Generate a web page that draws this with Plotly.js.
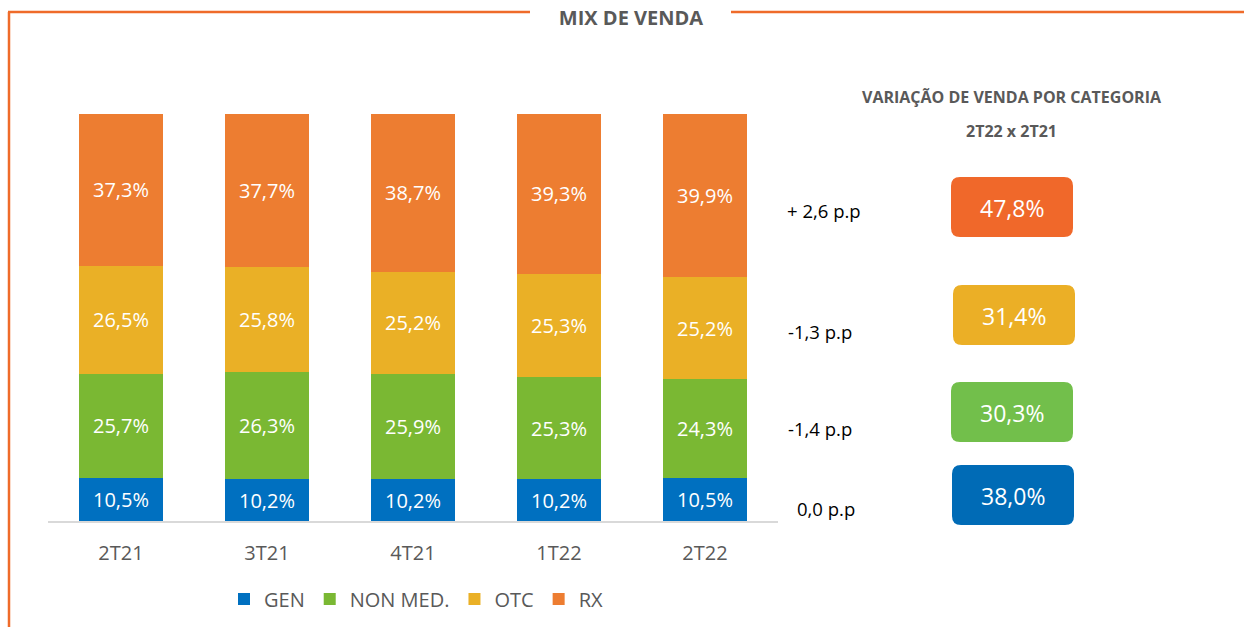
<!DOCTYPE html>
<html>
<head>
<meta charset="utf-8">
<script src="https://cdn.plot.ly/plotly-3.0.1.min.js"></script>
<style>html,body{margin:0;padding:0;background:#fff;}#chart{width:1244px;height:627px;}</style>
</head>
<body>
<div id="chart"></div>
<script>
// ---- data ----
const quarters = ['2T21', '3T21', '4T21', '1T22', '2T22'];
const seriesNames = ['GEN', 'NON MED.', 'OTC', 'RX'];
const gen = [10.5, 10.2, 10.2, 10.2, 10.5];
const nonMed = [25.7, 26.3, 25.9, 25.3, 24.3];
const otc = [26.5, 25.8, 25.2, 25.3, 25.2];
const rx = [37.3, 37.7, 38.7, 39.3, 39.9];
// variação por categoria (2T22 x 2T21), ordem RX, OTC, NON MED., GEN
const ppChange = ['+ 2,6 p.p', '-1,3 p.p', '-1,4 p.p', '0,0 p.p'];
const salesGrowth = [47.8, 31.4, 30.3, 38.0];

// ---- styling ----
const W = 1244, H = 627;
const M = {l: 48, r: 466, t: 114, b: 106};
const plotW = W - M.l - M.r, plotH = H - M.t - M.b;
const px = x => (x - M.l) / plotW;          // pixel -> paper x
const py = y => (H - M.b - y) / plotH;      // pixel -> paper y
const FONT = 'Open Sans, Noto Sans, sans-serif';
const GRAY = '#595959';
const FRAME = '#EF6B2A';
const barColors = ['#0070C0', '#7AB833', '#EAB026', '#ED7D31'];
const boxColors = ['#F0682A', '#EBAF26', '#72BF4B', '#006BB6'];
const fmt = v => v.toFixed(1).replace('.', ',') + '%';

const seriesData = [gen, nonMed, otc, rx];
const traces = seriesData.map((vals, i) => ({
  type: 'bar',
  name: seriesNames[i],
  x: quarters,
  y: vals,
  text: vals.map(fmt),
  textposition: 'inside',
  insidetextanchor: 'middle',
  textangle: 0,
  constraintext: 'none',
  textfont: {family: FONT, size: 20, color: '#ffffff'},
  marker: {color: barColors[i], line: {width: 0}},
  hoverinfo: 'skip'
}));

// right panel layout positions (pixels)
const deltaPos = [{x: 785, y: 210}, {x: 786, y: 331}, {x: 786, y: 428}, {x: 795, y: 508}];
const boxPos = [{x: 1012, y: 207}, {x: 1014, y: 315}, {x: 1012, y: 412}, {x: 1013, y: 495}];
const bw = 61, bh = 30, br = 9;
const roundPath = `M ${-bw+br},${-bh} L ${bw-br},${-bh} Q ${bw},${-bh} ${bw},${-bh+br} L ${bw},${bh-br} Q ${bw},${bh} ${bw-br},${bh} L ${-bw+br},${bh} Q ${-bw},${bh} ${-bw},${bh-br} L ${-bw},${-bh+br} Q ${-bw},${-bh} ${-bw+br},${-bh} Z`;

const shapes = [
  // frame
  {type: 'line', xref: 'paper', yref: 'paper', x0: px(9), x1: px(9), y0: py(12), y1: py(640), line: {color: FRAME, width: 2.5}},
  {type: 'line', xref: 'paper', yref: 'paper', x0: px(8), x1: px(530), y0: py(12), y1: py(12), line: {color: FRAME, width: 2.5}},
  {type: 'line', xref: 'paper', yref: 'paper', x0: px(731), x1: px(1250), y0: py(12), y1: py(12), line: {color: FRAME, width: 2.5}}
];
boxPos.forEach((p, i) => {
  shapes.push({type: 'path', xref: 'paper', yref: 'paper', xsizemode: 'pixel', ysizemode: 'pixel',
    xanchor: px(p.x), yanchor: py(p.y), path: roundPath, fillcolor: boxColors[i], line: {width: 0}, layer: 'above'});
});

const annotations = [
  {text: '<b>VARIAÇÃO DE VENDA POR CATEGORIA</b>', x: px(1012), y: py(97), xref: 'paper', yref: 'paper', showarrow: false,
   xanchor: 'center', yanchor: 'middle', font: {family: FONT, size: 16, color: GRAY}},
  {text: '<b>2T22 x 2T21</b>', x: px(1012), y: py(131), xref: 'paper', yref: 'paper', showarrow: false,
   xanchor: 'center', yanchor: 'middle', font: {family: FONT, size: 16, color: GRAY}}
];
ppChange.forEach((t, i) => {
  annotations.push({text: t, x: px(deltaPos[i].x), y: py(deltaPos[i].y), xref: 'paper', yref: 'paper', showarrow: false,
    xanchor: 'left', yanchor: 'middle', font: {family: FONT, size: 18.5, color: '#000000'}});
});
salesGrowth.forEach((v, i) => {
  annotations.push({text: fmt(v), x: px(boxPos[i].x), y: py(boxPos[i].y + 1), xref: 'paper', yref: 'paper', showarrow: false,
    xanchor: 'center', yanchor: 'middle', font: {family: FONT, size: 23, color: '#ffffff'}});
});

const layout = {
  width: W, height: H,
  margin: M,
  paper_bgcolor: '#ffffff', plot_bgcolor: '#ffffff',
  title: {text: '<b>MIX DE VENDA</b>', x: 631 / W, y: 1 - 18 / H, xref: 'container', yref: 'container',
          xanchor: 'center', yanchor: 'middle', font: {family: FONT, size: 20, color: GRAY}},
  barmode: 'stack',
  bargap: 0.43,
  showlegend: true,
  legend: {orientation: 'h', x: px(416), xanchor: 'center', yref: 'container', y: 1 - 599 / H, yanchor: 'middle',
           traceorder: 'normal', font: {family: FONT, size: 20, color: GRAY}, bgcolor: 'rgba(0,0,0,0)'},
  xaxis: {type: 'category', showline: true, linecolor: '#d9d9d9', linewidth: 1.5, ticks: '', showgrid: false,
          zeroline: false, automargin: false, ticklabelstandoff: 13, tickfont: {family: FONT, size: 20, color: GRAY}, fixedrange: true},
  yaxis: {range: [0, 100], visible: false, showgrid: false, zeroline: false, fixedrange: true},
  shapes: shapes,
  annotations: annotations,
  font: {family: FONT}
};

Plotly.newPlot('chart', traces, layout, {displayModeBar: false, staticPlot: true});
</script>
</body>
</html>
